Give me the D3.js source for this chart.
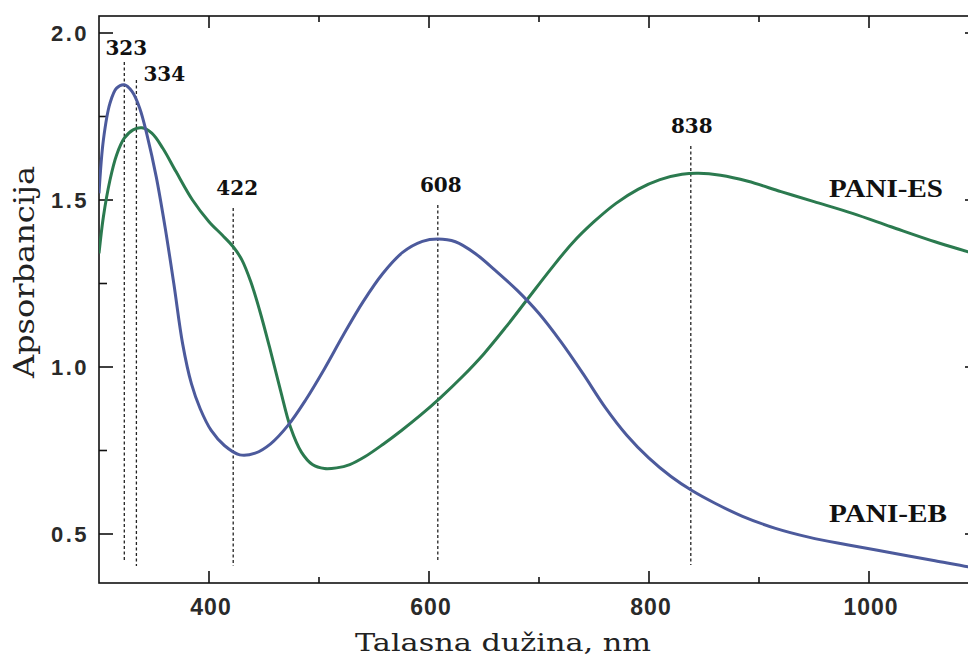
<!DOCTYPE html>
<html>
<head>
<meta charset="utf-8">
<script src="https://cdn.jsdelivr.net/npm/d3@7"></script>
<style>
html,body{margin:0;padding:0;background:#fff;}
svg{display:block;}
</style>
</head>
<body>
<svg id="chart" width="968" height="659"></svg>
<script>
// ---- data ----
const ebWavelength = [300,304,310,316,323,330,337,344,352,360,368,376,384,392,402,414,428,442,456,472,488,505,522,540,558,576,594,608,624,642,660,680,700,720,740,760,780,800,820,839,860,885,915,946,980,1020,1060,1090,1100];
const ebAbsorb     = [1.52,1.68,1.79,1.835,1.845,1.825,1.775,1.69,1.57,1.42,1.25,1.07,0.95,0.875,0.81,0.765,0.737,0.742,0.77,0.826,0.902,0.995,1.095,1.195,1.28,1.343,1.376,1.383,1.375,1.34,1.29,1.23,1.16,1.075,0.98,0.88,0.795,0.727,0.672,0.630,0.592,0.553,0.517,0.49,0.468,0.444,0.42,0.402,0.397];
const esWavelength = [300,304,310,316,323,331,339,348,358,370,385,400,412,422,430,438,446,455,465,474,484,494,505,516,528,542,558,575,592,610,630,650,670,690,710,730,750,770,790,810,830,845,865,890,920,950,985,1020,1060,1090,1100];
const esAbsorb     = [1.34,1.45,1.56,1.635,1.685,1.71,1.716,1.70,1.655,1.585,1.50,1.435,1.395,1.36,1.32,1.255,1.17,1.06,0.93,0.82,0.745,0.708,0.696,0.698,0.708,0.732,0.768,0.81,0.855,0.907,0.97,1.04,1.12,1.205,1.29,1.37,1.435,1.49,1.532,1.561,1.577,1.58,1.574,1.556,1.525,1.495,1.46,1.42,1.375,1.345,1.335];
const seriesNames = ["PANI-EB","PANI-ES"];
const peakWavelengths = [323,334,422,608,838];
const xTickValues = [400,600,800,1000];
const xMinorTicks = [500,700,900];
const yTickValues = [0.5,1.0,1.5,2.0];
const yMinorTicks = [0.75,1.25,1.75];
const xTitle = "Talasna dužina, nm";
const yTitle = "Apsorbancija";

// ---- layout ----
const L = 99, T = 16, B = 583, R = 979;
const svg = d3.select("#chart");
const x = d3.scaleLinear().domain([300,1100]).range([L,R]);
const y = d3.scaleLinear().domain([0.3533,2.0509]).range([B,T]);

// frame
svg.append("rect").attr("x",L).attr("y",T).attr("width",R-L).attr("height",B-T)
  .attr("fill","none").attr("stroke","#111").attr("stroke-width",1.6);

const tickColor = "#111";
function xt(vals, len){
  svg.append("g").selectAll("line").data(vals).join("line")
    .attr("x1",d=>x(d)).attr("x2",d=>x(d)).attr("y1",B).attr("y2",B-len)
    .attr("stroke",tickColor).attr("stroke-width",1.6);
  svg.append("g").selectAll("line").data(vals).join("line")
    .attr("x1",d=>x(d)).attr("x2",d=>x(d)).attr("y1",T).attr("y2",T+len)
    .attr("stroke",tickColor).attr("stroke-width",1.6);
}
xt(xTickValues, 12); xt(xMinorTicks, 6);
function yt(vals, len){
  svg.append("g").selectAll("line").data(vals).join("line")
    .attr("x1",L).attr("x2",L+len).attr("y1",d=>y(d)).attr("y2",d=>y(d))
    .attr("stroke",tickColor).attr("stroke-width",1.6);
  svg.append("g").selectAll("line").data(vals).join("line")
    .attr("x1",R).attr("x2",R-len).attr("y1",d=>y(d)).attr("y2",d=>y(d))
    .attr("stroke",tickColor).attr("stroke-width",1.6);
}
yt(yTickValues, 14); yt(yMinorTicks, 8);

// tick labels
svg.append("g").selectAll("text").data(xTickValues).join("text")
  .attr("x",d=>x(d)+2).attr("y",615).attr("text-anchor","middle")
  .attr("font-family","Liberation Sans, Arial, sans-serif").attr("font-size",23)
  .attr("font-weight","bold").attr("letter-spacing",1).attr("fill","#2a2a2a").text(d=>d);
svg.append("g").selectAll("text").data(yTickValues).join("text")
  .attr("x",89).attr("y",d=>y(d)+8).attr("text-anchor","end")
  .attr("font-family","Liberation Sans, Arial, sans-serif").attr("font-size",22)
  .attr("font-weight","bold").attr("letter-spacing",2.5).attr("fill","#2a2a2a").text(d=>d3.format(".1f")(d));

// axis titles
svg.append("text").attr("transform","translate(34,272) rotate(-90)")
  .attr("text-anchor","middle").attr("font-family","DejaVu Serif, serif")
  .attr("font-size",27).attr("fill","#222")
  .attr("textLength",212).attr("lengthAdjust","spacingAndGlyphs").text(yTitle);
svg.append("text").attr("x",503).attr("y",651)
  .attr("text-anchor","middle").attr("font-family","DejaVu Serif, serif")
  .attr("font-size",25).attr("fill","#222")
  .attr("textLength",296).attr("lengthAdjust","spacingAndGlyphs").text(xTitle);

// clip
svg.append("clipPath").attr("id","clip").append("rect")
  .attr("x",L).attr("y",T).attr("width",R-L).attr("height",B-T);

// peak dashed lines
const peakLayout = [
  {top:62, bottom:562, lx:2, ly:55, anchor:"middle"},
  {top:80, bottom:566, lx:7, ly:81, anchor:"start"},
  {top:208, bottom:566, lx:4, ly:195, anchor:"middle"},
  {top:205, bottom:562, lx:3, ly:192, anchor:"middle"},
  {top:146, bottom:565, lx:1, ly:133, anchor:"middle"}
];
const pk = svg.append("g");
peakWavelengths.forEach((w,i)=>{
  const p = peakLayout[i];
  pk.append("line").attr("x1",x(w)).attr("x2",x(w)).attr("y1",p.top).attr("y2",p.bottom)
    .attr("stroke","#222").attr("stroke-width",1.3).attr("stroke-dasharray","3,2.5");
  pk.append("text").attr("x",x(w)+p.lx).attr("y",p.ly).attr("text-anchor",p.anchor)
    .attr("font-family","DejaVu Serif, serif").attr("font-weight","bold")
    .attr("font-size",20).attr("fill","#111").text(w);
});

// curves
const line = d3.line().x(d=>x(d[0])).y(d=>y(d[1])).curve(d3.curveCatmullRom.alpha(0.5));
const ebData = d3.zip(ebWavelength, ebAbsorb);
const esData = d3.zip(esWavelength, esAbsorb);
const g = svg.append("g").attr("clip-path","url(#clip)");
g.append("path").datum(esData).attr("d",line).attr("fill","none")
  .attr("stroke","#2b7a4f").attr("stroke-width",3);
g.append("path").datum(ebData).attr("d",line).attr("fill","none")
  .attr("stroke","#4c5a9c").attr("stroke-width",3);

// series labels
svg.append("text").attr("x",829).attr("y",197)
  .attr("font-family","Liberation Serif, serif").attr("font-weight","bold")
  .attr("font-size",26).attr("fill","#111")
  .attr("textLength",114).attr("lengthAdjust","spacingAndGlyphs").text(seriesNames[1]);
svg.append("text").attr("x",829).attr("y",522)
  .attr("font-family","Liberation Serif, serif").attr("font-weight","bold")
  .attr("font-size",26).attr("fill","#111")
  .attr("textLength",118).attr("lengthAdjust","spacingAndGlyphs").text(seriesNames[0]);
</script>
</body>
</html>
